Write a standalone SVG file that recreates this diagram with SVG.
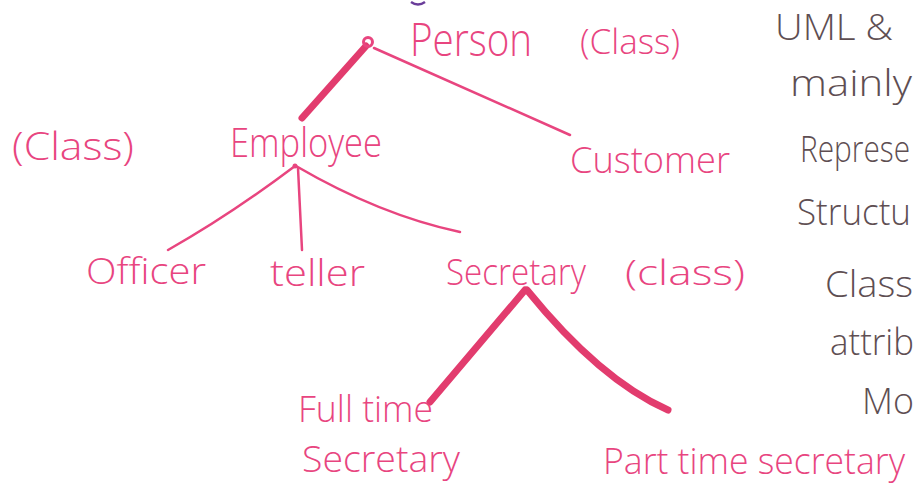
<svg xmlns="http://www.w3.org/2000/svg" width="920" height="498" viewBox="0 0 920 498">
<style>
.pk{font-family:"Open Sans","Liberation Sans",sans-serif;font-weight:300;fill:#e8457f}
.gr{font-family:"Open Sans","Liberation Sans",sans-serif;font-weight:300;fill:#5e4e52;font-size:36px}
.thin{stroke:#e8457f;stroke-width:2.5;fill:none;stroke-linecap:round}
.thick{stroke:#e23c6e;stroke-width:7;fill:none;stroke-linecap:round}
</style>
<rect width="920" height="498" fill="#ffffff"/>
<path d="M411 2 Q418 7 425 2" stroke="#6a3d9a" stroke-width="2.5" fill="none"/>
<g id="connectors">
<path class="thick" d="M366 46 L302 118"/>
<path class="thin" d="M374 48 L570 135"/>
<path class="thin" d="M295 166 Q230 215 168 250"/>
<path class="thin" d="M298 168 L302 250"/>
<path class="thin" d="M296 166 Q380 215 460 232"/>
<path class="thick" d="M525 290 L430 402"/>
<path class="thick" d="M527 290 Q600 380 668 410"/>
</g>
<g id="person">
<circle cx="368" cy="42" r="4.5" fill="none" stroke="#e8457f" stroke-width="3"/>
<text class="pk" x="410" y="56" font-size="46" textLength="122" lengthAdjust="spacingAndGlyphs">Person</text>
<text class="pk" x="580" y="54" font-size="34" textLength="100" lengthAdjust="spacingAndGlyphs">(Class)</text>
</g>
<g id="employee">
<text class="pk" x="12" y="160" font-size="38" textLength="122" lengthAdjust="spacingAndGlyphs">(Class)</text>
<text class="pk" x="230" y="157" font-size="40" textLength="152" lengthAdjust="spacingAndGlyphs">Employee</text>
<circle cx="295" cy="166" r="2.5" fill="#e8457f"/>
</g>
<g id="customer">
<text class="pk" x="570" y="173" font-size="36" textLength="160" lengthAdjust="spacingAndGlyphs">Customer</text>
</g>
<g id="officer">
<text class="pk" x="86" y="284" font-size="36" textLength="120" lengthAdjust="spacingAndGlyphs">Officer</text>
</g>
<g id="teller">
<text class="pk" x="270" y="286" font-size="36" textLength="95" lengthAdjust="spacingAndGlyphs">teller</text>
</g>
<g id="secretary">
<text class="pk" x="446" y="285" font-size="36" textLength="140" lengthAdjust="spacingAndGlyphs">Secretary</text>
<text class="pk" x="625" y="285" font-size="34" textLength="120" lengthAdjust="spacingAndGlyphs">(class)</text>
</g>
<g id="fulltime">
<text class="pk" x="298" y="422" font-size="36" textLength="135" lengthAdjust="spacingAndGlyphs">Full time</text>
<text class="pk" x="302" y="472" font-size="36" textLength="158" lengthAdjust="spacingAndGlyphs">Secretary</text>
</g>
<g id="parttime">
<text class="pk" x="603" y="474" font-size="36" textLength="302" lengthAdjust="spacingAndGlyphs">Part time secretary</text>
</g>
<g id="notes">
<text class="gr" x="775" y="40" textLength="118" lengthAdjust="spacingAndGlyphs">UML &amp;</text>
<text class="gr" x="790" y="96" textLength="122" lengthAdjust="spacingAndGlyphs">mainly</text>
<text class="gr" x="800" y="162" textLength="110" lengthAdjust="spacingAndGlyphs">Represe</text>
<text class="gr" x="797" y="225" textLength="114" lengthAdjust="spacingAndGlyphs">Structu</text>
<text class="gr" x="825" y="297" textLength="88" lengthAdjust="spacingAndGlyphs">Class</text>
<text class="gr" x="830" y="355" textLength="84" lengthAdjust="spacingAndGlyphs">attrib</text>
<text class="gr" x="862" y="414" textLength="52" lengthAdjust="spacingAndGlyphs">Mo</text>
</g>
</svg>
